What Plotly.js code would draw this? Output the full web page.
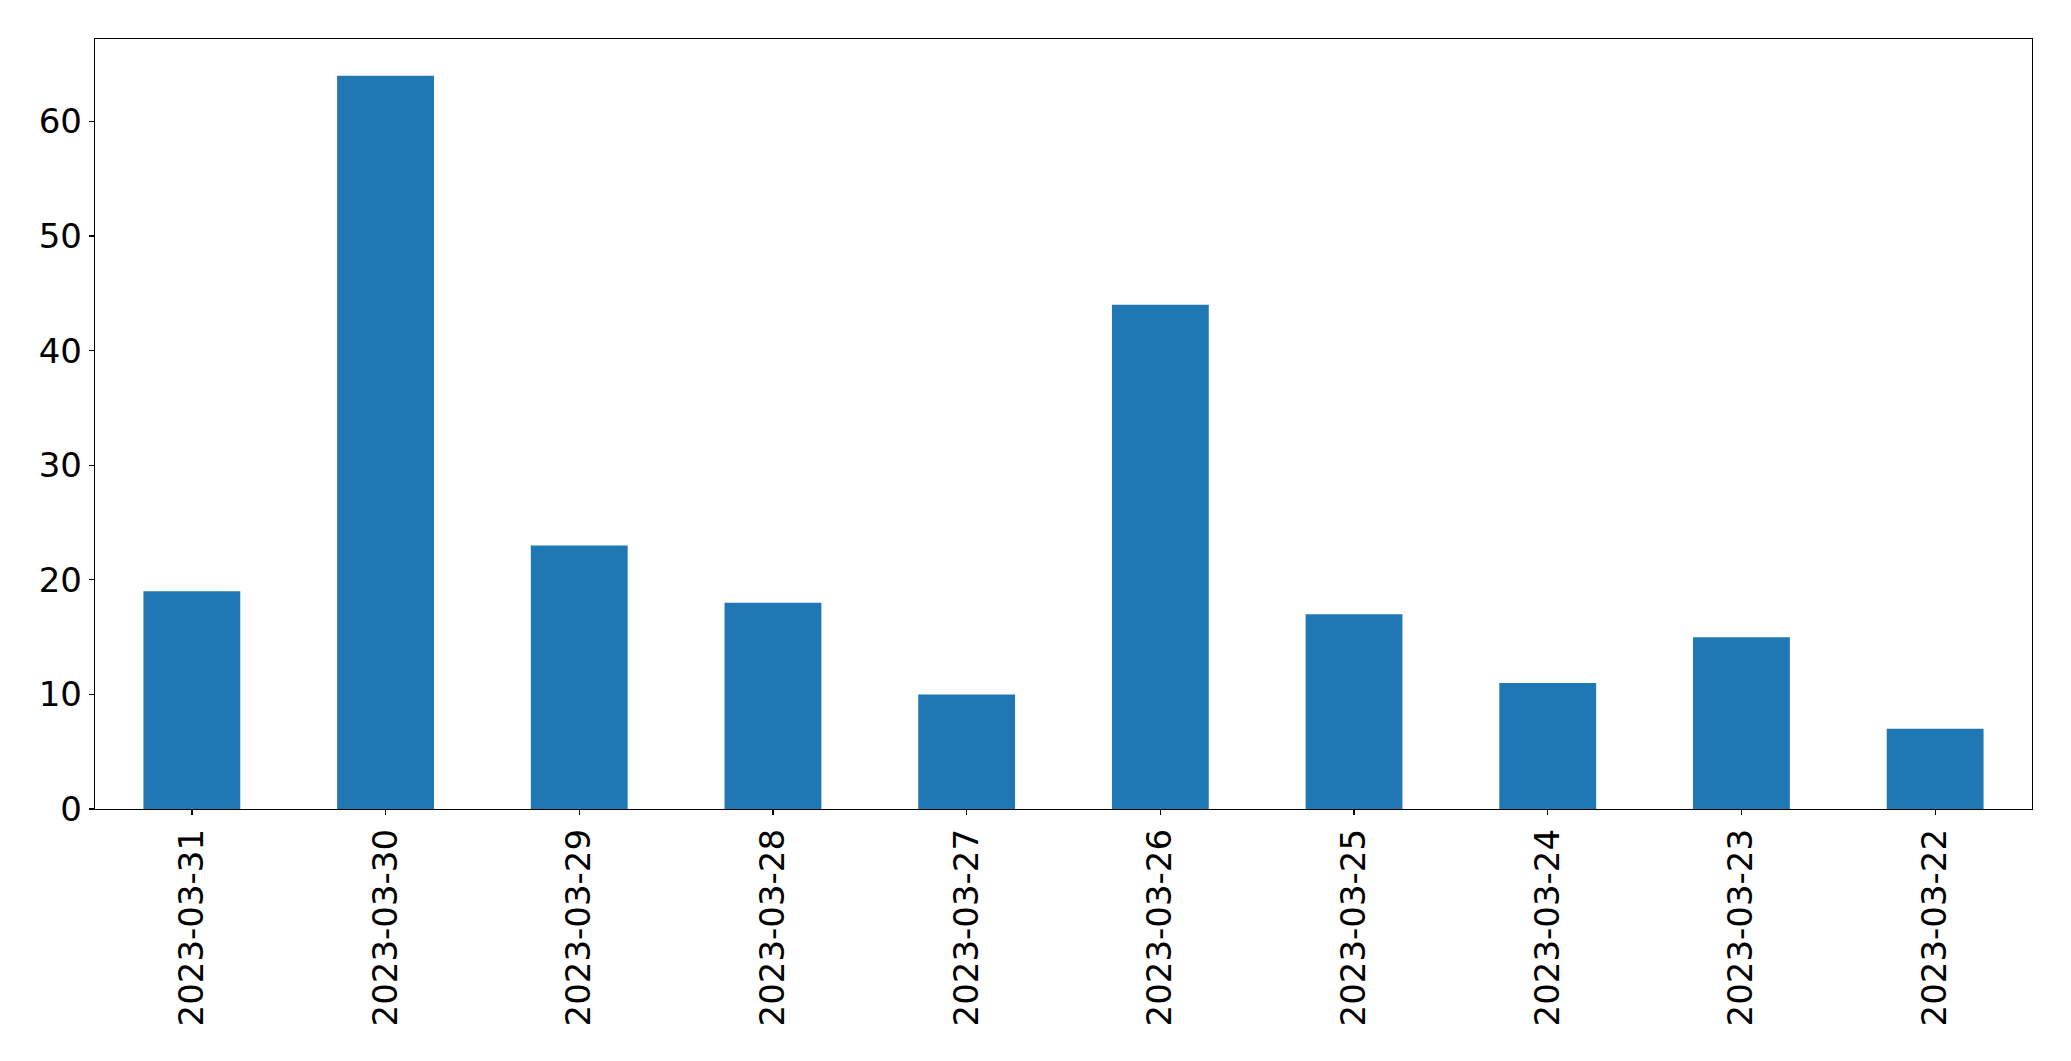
<!DOCTYPE html>
<html>
<head>
<meta charset="utf-8">
<script src="https://cdn.plot.ly/plotly-3.0.1.min.js"></script>
<style>html,body{margin:0;padding:0;background:#fff;}#chart{width:2071px;height:1061px;}</style>
</head>
<body>
<div id="chart"></div>
<script>
const categories = ["2023-03-31","2023-03-30","2023-03-29","2023-03-28","2023-03-27","2023-03-26","2023-03-25","2023-03-24","2023-03-23","2023-03-22"];
const counts = [19, 64, 23, 18, 10, 44, 17, 11, 15, 7];
const yTicks = [0, 10, 20, 30, 40, 50, 60];

const font = {family: "DejaVu Sans, sans-serif", size: 34, color: "#000"};
const trace = {
  type: "bar",
  x: categories,
  y: counts,
  width: 0.5,
  marker: {color: "#1f77b4", line: {width: 0}},
  hoverinfo: "x+y"
};
const layout = {
  width: 2071, height: 1061,
  margin: {l: 95, r: 39, t: 39, b: 252, pad: 0},
  paper_bgcolor: "#fff", plot_bgcolor: "#fff",
  showlegend: false,
  font: font,
  xaxis: {
    type: "category",
    range: [-0.5, categories.length - 0.5],
    tickangle: -90,
    ticks: "outside", ticklen: 5, tickwidth: 1.3, tickcolor: "#000",
    showline: true, linecolor: "#000", linewidth: 1.3, mirror: true,
    showgrid: false, zeroline: false,
    tickfont: font
  },
  yaxis: {
    range: [0, 67.2],
    tickvals: yTicks,
    ticktext: yTicks.map(String),
    ticks: "outside", ticklen: 5, tickwidth: 1.3, tickcolor: "#000",
    showline: true, linecolor: "#000", linewidth: 1.3, mirror: true,
    showgrid: false, zeroline: false,
    tickfont: font
  }
};
Plotly.newPlot("chart", [trace], layout, {displayModeBar: false, staticPlot: true});
</script>
</body>
</html>
